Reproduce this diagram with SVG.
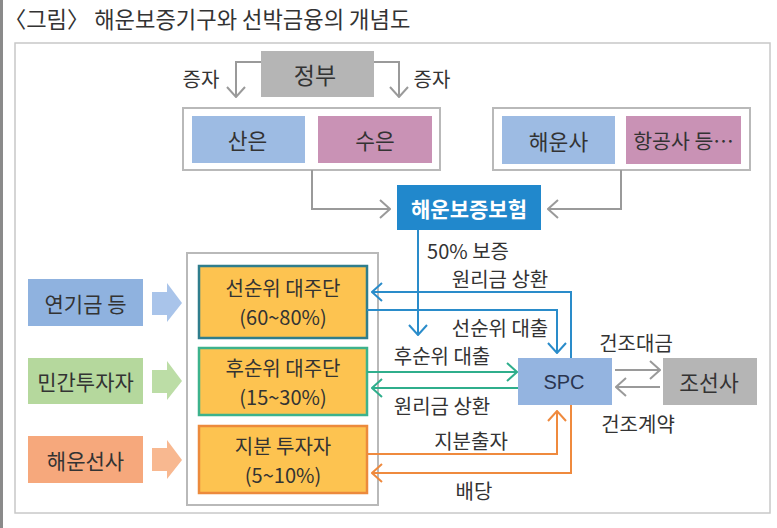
<svg xmlns="http://www.w3.org/2000/svg" width="777" height="528" viewBox="0 0 777 528">
<defs>
<style>
text{font-family:"Noto Sans CJK KR","Noto Sans",sans-serif;fill:#333;dominant-baseline:central;text-anchor:middle}
.lbl{font-size:20px}
.node{font-size:21.5px}
.tr{font-size:20px}
.src{font-size:21px}
.grp{fill:#fff;stroke:#b9b9b9;stroke-width:2}
.ln{fill:none;stroke-width:2}
.g{stroke:#9a9a9a}
.b{stroke:#2a8cca}
.gr{stroke:#2fae8c}
.o{stroke:#ef8a3e}
</style>
<marker id="mg" viewBox="0 0 12 20" markerWidth="12" markerHeight="20" refX="11" refY="10" orient="auto" markerUnits="userSpaceOnUse"><path d="M1,1 L11,10 L1,19" fill="none" stroke="#9a9a9a" stroke-width="2"/></marker>
<marker id="mb" viewBox="0 0 12 20" markerWidth="12" markerHeight="20" refX="11" refY="10" orient="auto" markerUnits="userSpaceOnUse"><path d="M1,1 L11,10 L1,19" fill="none" stroke="#2a8cca" stroke-width="2"/></marker>
<marker id="mgr" viewBox="0 0 12 20" markerWidth="12" markerHeight="20" refX="11" refY="10" orient="auto" markerUnits="userSpaceOnUse"><path d="M1,1 L11,10 L1,19" fill="none" stroke="#2fae8c" stroke-width="2"/></marker>
<marker id="mo" viewBox="0 0 12 20" markerWidth="12" markerHeight="20" refX="11" refY="10" orient="auto" markerUnits="userSpaceOnUse"><path d="M1,1 L11,10 L1,19" fill="none" stroke="#ef8a3e" stroke-width="2"/></marker>
</defs>
<rect x="0" y="0" width="777" height="528" fill="#fff"/>
<rect x="0" y="0" width="3" height="528" fill="#8a8a8a"/>
<text x="4" y="18" style="font-size:22.2px;text-anchor:start;fill:#333">〈그림〉 해운보증기구와 선박금융의 개념도</text>
<rect x="15" y="43" width="755" height="470" fill="#fff" stroke="#c8c8c8" stroke-width="1.5"/>

<g id="gov"><rect x="261" y="51" width="113" height="46" fill="#b5b5b5"/><text x="315" y="74" style="font-size:23px">정부</text></g>
<g id="group-left"><rect class="grp" x="183" y="108" width="257" height="62"/></g>
<g id="kdb"><rect x="192" y="116" width="113" height="47" fill="#9dbbe3"/><text class="node" x="247.5" y="139.5">산은</text></g>
<g id="kexim"><rect x="318" y="116" width="114" height="47" fill="#c992b5"/><text class="node" x="375" y="139.5">수은</text></g>
<g id="group-right"><rect class="grp" x="493" y="108" width="257" height="62"/></g>
<g id="shipping"><rect x="502" y="116" width="113" height="48" fill="#9dbbe3"/><text class="node" x="558.5" y="140">해운사</text></g>
<g id="airline"><rect x="626" y="116" width="115" height="48" fill="#c992b5"/><text x="683.5" y="140" style="font-size:20.5px">항공사 등…</text></g>
<g id="insurance"><rect x="397" y="185" width="144" height="45" fill="#2188cc"/><text x="469" y="207.5" style="font-size:21px;font-weight:bold;fill:#fff">해운보증보험</text></g>

<g id="tranches"><rect class="grp" x="187" y="253" width="191" height="252" stroke="#c4c4c4"/></g>
<g id="senior"><rect x="199" y="266" width="168" height="72" fill="#fdc350" stroke="#2f7d8c" stroke-width="2.5"/><text class="tr" x="283" y="287.5">선순위 대주단</text><text class="tr" x="283" y="316.5">(60~80%)</text></g>
<g id="junior"><rect x="199" y="348" width="168" height="67" fill="#fdc350" stroke="#3db28c" stroke-width="2.5"/><text class="tr" x="283" y="367">후순위 대주단</text><text class="tr" x="283" y="396">(15~30%)</text></g>
<g id="equity"><rect x="199" y="426" width="168" height="67" fill="#fdc350" stroke="#ec8a3c" stroke-width="2.5"/><text class="tr" x="283" y="445">지분 투자자</text><text class="tr" x="283" y="474">(5~10%)</text></g>

<g id="pension"><rect x="28" y="279" width="115" height="47" fill="#8fb2df"/><text class="src" x="85.5" y="302.5">연기금 등</text><polygon points="152,292 167,292 167,283 182,303 167,322 167,315 152,315" fill="#a9c4ea"/></g>
<g id="private"><rect x="28" y="358" width="115" height="46" fill="#b5d89d"/><text class="src" x="85.5" y="381">민간투자자</text><polygon points="152,370 167,370 167,361 182,381 167,400 167,393 152,393" fill="#bcdda6"/></g>
<g id="shipowner"><rect x="28" y="436" width="115" height="47" fill="#f6a87c"/><text class="src" x="85.5" y="459.5">해운선사</text><polygon points="152,448 167,448 167,440 182,460 167,479 167,471 152,471" fill="#f8b890"/></g>

<g id="spc"><rect x="518" y="358" width="94" height="47" fill="#94b4e0"/><text x="564" y="381.5" style="font-size:20px;font-family:'Liberation Sans','Noto Sans',sans-serif;fill:#2a3550">SPC</text></g>
<g id="shipyard"><rect x="663" y="358" width="94" height="47" fill="#b5b5b5"/><text class="node" x="709" y="381.5">조선사</text></g>

<g id="connectors">
<path class="ln g" d="M261,62 H236 V97" marker-end="url(#mg)"/>
<path class="ln g" d="M374,62 H399 V97" marker-end="url(#mg)"/>
<path class="ln g" d="M312,170 V209 H390" marker-end="url(#mg)"/>
<path class="ln g" d="M621,170 V209 H548" marker-end="url(#mg)"/>
<path class="ln g" d="M615,370 H660" marker-end="url(#mg)"/>
<path class="ln g" d="M660,387 H616" marker-end="url(#mg)"/>
<path class="ln b" d="M418,230 V335" marker-end="url(#mb)"/>
<path class="ln b" d="M571,358 V292 H372" marker-end="url(#mb)"/>
<path class="ln b" d="M367,310 H557 V353" marker-end="url(#mb)"/>
<path class="ln gr" d="M367,372 H517" marker-end="url(#mgr)"/>
<path class="ln gr" d="M518,388 H372" marker-end="url(#mgr)"/>
<path class="ln o" d="M367,454 H557 V411" marker-end="url(#mo)"/>
<path class="ln o" d="M571,405 V473 H372" marker-end="url(#mo)"/>
<text class="lbl" x="201" y="78">증자</text>
<text class="lbl" x="432" y="78">증자</text>
<text class="lbl" x="468" y="250">50% 보증</text>
<text class="lbl" x="500" y="278">원리금 상환</text>
<text class="lbl" x="500" y="327">선순위 대출</text>
<text class="lbl" x="636" y="342">건조대금</text>
<text class="lbl" x="442" y="355">후순위 대출</text>
<text class="lbl" x="442" y="405">원리금 상환</text>
<text class="lbl" x="638" y="423">건조계약</text>
<text class="lbl" x="471" y="440">지분출자</text>
<text class="lbl" x="474" y="490">배당</text>
</g>
</svg>
